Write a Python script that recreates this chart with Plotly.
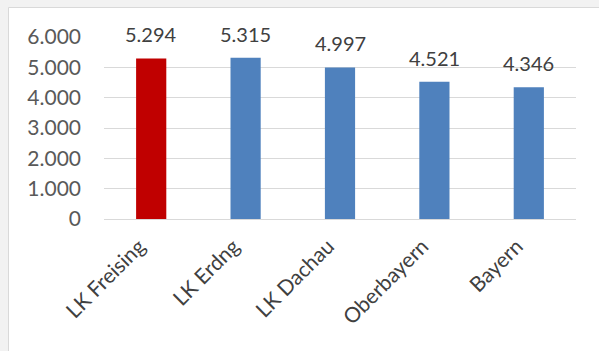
import plotly.graph_objects as go

categories = ["LK Freising", "LK Erdng", "LK Dachau", "Oberbayern", "Bayern"]
values = [5294, 5315, 4997, 4521, 4346]
labels = ["5.294", "5.315", "4.997", "4.521", "4.346"]
colors = ["#C00000", "#4F81BD", "#4F81BD", "#4F81BD", "#4F81BD"]

FONT = "Lato, 'Open Sans', sans-serif"

fig = go.Figure()
fig.add_trace(go.Bar(
    x=categories, y=values,
    marker=dict(color=colors, line=dict(width=0)),
    width=0.32,
    hoverinfo="skip",
))

for c, v, t in zip(categories, values, labels):
    fig.add_annotation(x=c, y=v, text=t, showarrow=False,
                       yanchor="middle", yshift=24,
                       font=dict(family=FONT, size=20, color="#404040"))

# outer frame (gray background with white panel)
fig.add_shape(type="rect", xref="paper", yref="paper",
              x0=(8.5 - 104) / 472, x1=(602 - 104) / 472,
              y0=(219 - 355) / 182, y1=(219 - 7.5) / 182,
              fillcolor="white", line=dict(color="#d9d9d9", width=1),
              layer="below")

fig.update_layout(
    width=599, height=351,
    margin=dict(l=104, r=23, t=37, b=132),
    paper_bgcolor="#f2f2f2",
    plot_bgcolor="rgba(0,0,0,0)",
    separators=",.",
    showlegend=False,
    font=dict(family=FONT, size=20, color="#595959"),
    xaxis=dict(
        tickangle=-45, showgrid=False, showline=False, zeroline=False,
        ticks="", ticklabelstandoff=10, ticklabelshift=-12,
        tickfont=dict(family=FONT, size=21, color="#404040"),
        range=[-0.5, 4.5],
    ),
    yaxis=dict(
        range=[0, 6000], tickvals=[0, 1000, 2000, 3000, 4000, 5000, 6000],
        tickformat=",d", showgrid=True, gridcolor="#d9d9d9", gridwidth=1,
        zeroline=True, zerolinecolor="#d9d9d9", zerolinewidth=1,
        showline=False, ticks="", ticklabelstandoff=22,
        tickfont=dict(family=FONT, size=21, color="#595959"),
    ),
    bargap=0.68,
)

fig.write_html("out.html")
